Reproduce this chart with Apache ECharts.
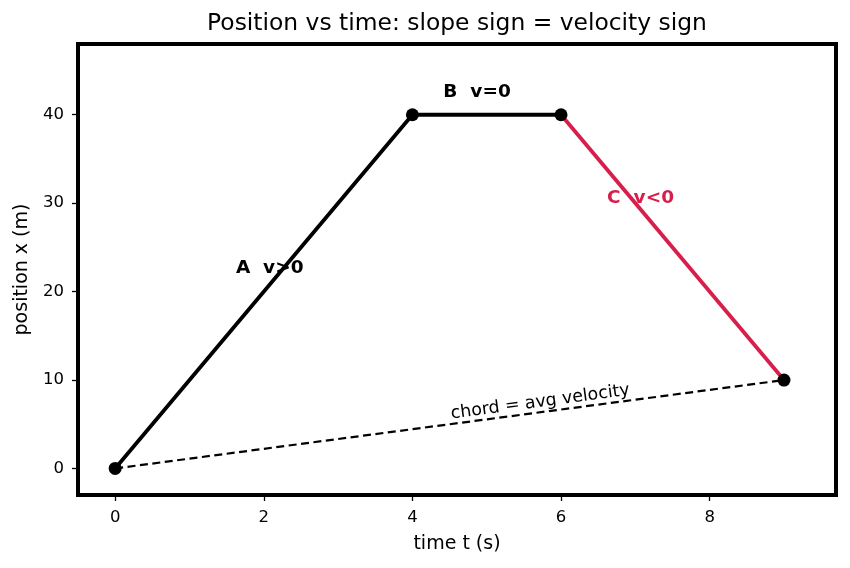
<!DOCTYPE html>
<html>
<head>
<meta charset="utf-8">
<script src="https://cdn.jsdelivr.net/npm/echarts@6/dist/echarts.min.js"></script>
<style>
  html,body{margin:0;padding:0;background:#fff;}
  #main{width:850px;height:568px;}
</style>
</head>
<body>
<div id="main"></div>
<script>
// data
var times = [0, 4, 6, 9];
var positions = [0, 40, 40, 10];
var xTicks = [0, 2, 4, 6, 8];
var yTicks = [0, 10, 20, 30, 40];
// annotation positions (data coords) and texts
var noteTexts = ['A  v>0', 'B  v=0', 'C  v<0'];
var noteT = [2.08, 4.87, 7.07];
var noteX = [22.6, 42.6, 30.6];
var chordText = 'chord = avg velocity';
var chordAt = [5.72, 7.5];

var font = 'DejaVu Sans';
var red = '#d81e4a';

function pts(a, b) {
    var out = [];
    for (var i = a; i <= b; i++) out.push([times[i], positions[i]]);
    return out;
}

var notes = [];
for (var i = 0; i < noteTexts.length; i++) {
    notes.push({
        value: [noteT[i], noteX[i]],
        label: {
            formatter: noteTexts[i],
            color: i == 2 ? red : '#000'
        }
    });
}

var myChart = echarts.init(document.getElementById('main'));
var option = {
    animation: false,
    backgroundColor: '#fff',
    title: {
        text: 'Position vs time: slope sign = velocity sign',
        left: 457,
        textAlign: 'center',
        top: 12,
        padding: 0,
        textStyle: {fontFamily: font, fontSize: 23.4, fontWeight: 'normal', color: '#000'}
    },
    grid: {
        left: 78, right: 14, top: 44, bottom: 73,
        show: true, borderColor: '#000', borderWidth: 4
    },
    xAxis: {
        type: 'value', min: -0.5, max: 9.7,
        name: 'time t (s)', nameLocation: 'middle', nameGap: 40,
        nameTextStyle: {fontFamily: font, fontSize: 19, color: '#000'},
        axisLine: {show: false, onZero: false},
        axisTick: {show: true, length: 6, inside: false, customValues: xTicks, lineStyle: {color: '#000', width: 1.3}},
        axisLabel: {customValues: xTicks, fontFamily: font, fontSize: 16.5, color: '#000', margin: 14},
        splitLine: {show: false}
    },
    yAxis: {
        type: 'value', min: -3, max: 48,
        name: 'position x (m)', nameLocation: 'middle', nameGap: 46,
        nameTextStyle: {fontFamily: font, fontSize: 19, color: '#000'},
        axisLine: {show: false, onZero: false},
        axisTick: {show: true, length: 6, inside: false, customValues: yTicks, lineStyle: {color: '#000', width: 1.3}},
        axisLabel: {customValues: yTicks, fontFamily: font, fontSize: 16.5, color: '#000', margin: 14},
        splitLine: {show: false}
    },
    series: [
        {
            type: 'line', data: [[times[0], positions[0]], [times[3], positions[3]]],
            symbol: 'none', z: 1,
            lineStyle: {color: '#000', width: 2.2, type: [8, 4.5]}
        },
        {
            type: 'line', data: pts(0, 2), symbol: 'none', z: 2,
            lineStyle: {color: '#000', width: 3.8}
        },
        {
            type: 'line', data: pts(2, 3), symbol: 'none', z: 2,
            lineStyle: {color: red, width: 3.8}
        },
        {
            type: 'scatter', data: pts(0, 3), symbolSize: 13, z: 3,
            itemStyle: {color: '#000', opacity: 1}
        },
        {
            type: 'scatter', data: notes, symbolSize: 0, z: 4,
            itemStyle: {opacity: 1},
            label: {show: true, position: 'inside', fontFamily: font, fontSize: 18.5, fontWeight: 'bold'}
        },
        {
            type: 'scatter', data: [chordAt], symbolSize: 0, z: 4,
            itemStyle: {opacity: 1},
            label: {show: true, position: 'inside', formatter: chordText, rotate: 7.6,
                fontFamily: font, fontSize: 17.4, color: '#000'}
        }
    ]
};
myChart.setOption(option);
</script>
</body>
</html>
